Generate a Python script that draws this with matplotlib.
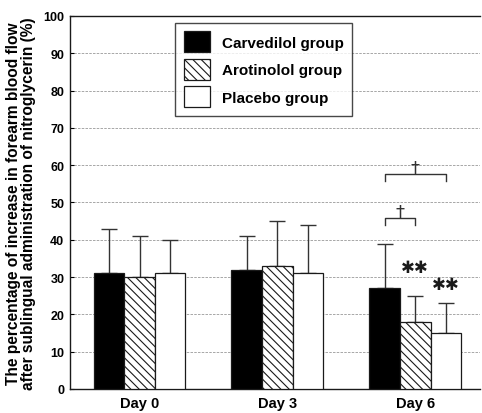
"""Forearm blood flow response to nitroglycerin by treatment group and day."""

import matplotlib

matplotlib.use("Agg")
import matplotlib.pyplot as plt
import numpy as np
from matplotlib.patches import Patch

plt.rcParams["font.family"] = ["Liberation Sans", "DejaVu Sans"]
plt.rcParams["hatch.linewidth"] = 0.8

days = ["Day 0", "Day 3", "Day 6"]
groups = ["Carvedilol group", "Arotinolol group", "Placebo group"]
means = {
    "Carvedilol group": [31, 32, 27],
    "Arotinolol group": [30, 33, 18],
    "Placebo group": [31, 31, 15],
}
sd_upper = {
    "Carvedilol group": [12, 9, 12],
    "Arotinolol group": [11, 12, 7],
    "Placebo group": [9, 13, 8],
}
styles = {
    "Carvedilol group": dict(facecolor="black", hatch=None),
    "Arotinolol group": dict(facecolor="white", hatch="\\\\\\\\"),
    "Placebo group": dict(facecolor="white", hatch=None),
}

INK = "#1a1a1a"
width = 0.222
x = np.arange(len(days))

fig = plt.figure(figsize=(4.82, 4.14), dpi=100)
ax = fig.add_axes([0.145, 0.058, 0.851, 0.901])

for i, g in enumerate(groups):
    pos = x + (i - 1) * width
    ax.bar(pos, means[g], width, edgecolor=INK, linewidth=0.9,
           zorder=3, **styles[g])
    err = np.array(sd_upper[g])
    ax.errorbar(pos, means[g], yerr=[np.zeros_like(err), err], fmt="none",
                ecolor="#333333", elinewidth=1.0, capsize=6, capthick=1.0,
                zorder=2)

# significance brackets on Day 6
c6 = x[2] - width
a6 = x[2]
p6 = x[2] + width


def bracket(x0, x1, y, drop):
    ax.plot([x0, x0, x1, x1], [y - drop, y, y, y - drop], color="#333333",
            lw=1.0, zorder=4)
    ax.text((x0 + x1) / 2, y - 0.6, "\u2020", ha="center", va="bottom",
            fontsize=13, color="#333333", family="DejaVu Sans")


bracket(c6, a6, 45.8, 1.8)
bracket(c6, p6, 57.6, 1.8)
ax.text(a6, 32.7, "\u2731\u2731", ha="center", va="center", fontsize=12,
        color=INK, family="DejaVu Sans")
ax.text(p6, 28.2, "\u2731\u2731", ha="center", va="center", fontsize=12,
        color=INK, family="DejaVu Sans")

ax.set_xlim(-0.505, 2.47)
ax.set_ylim(0, 100)
ax.set_yticks(np.arange(0, 101, 10))
ax.set_yticklabels([str(v) for v in range(0, 101, 10)], fontsize=9,
                   fontweight="bold")
ax.set_xticks(x)
ax.set_xticklabels(days, fontsize=10.5, fontweight="bold")
ax.tick_params(axis="x", length=0, pad=5)
ax.tick_params(axis="y", length=3, direction="in", pad=4)
ax.yaxis.grid(True, linestyle=(0, (3, 1.5)), color="#999999", linewidth=0.6)
ax.set_axisbelow(True)
for side in ("left", "bottom", "top"):
    ax.spines[side].set_color(INK)
    ax.spines[side].set_linewidth(1.0)
ax.spines["right"].set_visible(False)

ax.set_ylabel("The percentage of increase in forearm blood flow\n"
              "after sublingual administration of nitroglycerin (%)",
              fontsize=11.2, fontweight="bold", linespacing=1.0, labelpad=5)

handles = [Patch(edgecolor=INK, linewidth=0.9, **styles[g]) for g in groups]
leg = ax.legend(handles, groups, loc="upper left",
                bbox_to_anchor=(0.253, 0.985), frameon=True, fancybox=False,
                edgecolor=INK, prop=dict(weight="bold", size=11),
                handlelength=1.7, handleheight=1.7, labelspacing=0.45,
                borderpad=0.55, handletextpad=0.8, borderaxespad=0.1)
leg.get_frame().set_linewidth(1.0)

fig.savefig("out.png", dpi=100, facecolor="white")
